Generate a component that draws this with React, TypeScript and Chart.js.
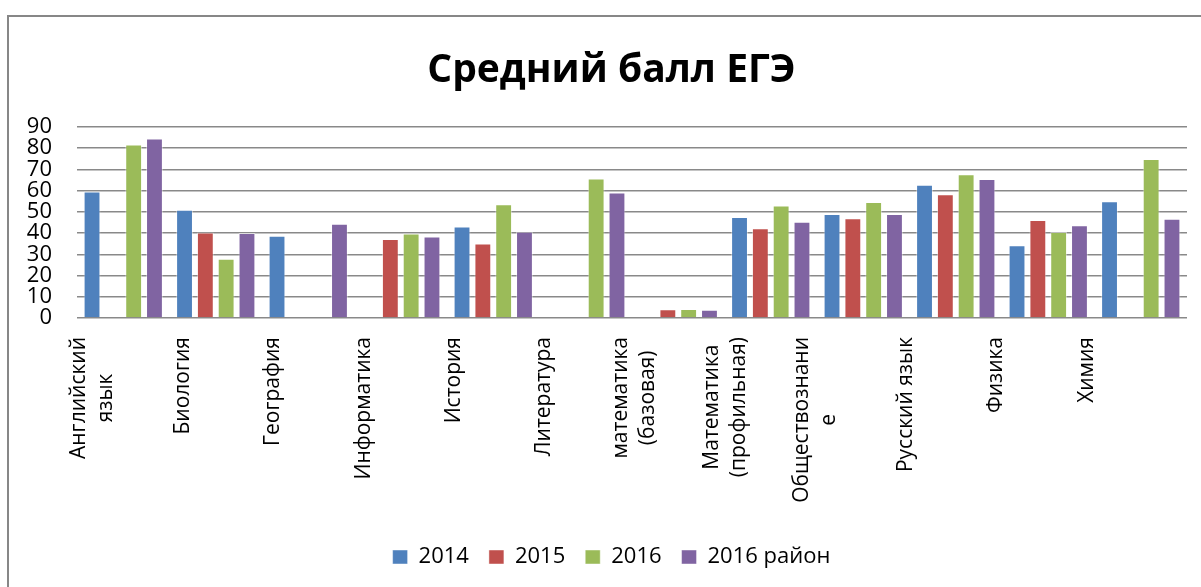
import React, { useEffect, useRef } from "react";
import { Chart, registerables } from "chart.js";

Chart.register(...registerables);

const categories: string[][] = [
  ["Английский", "язык"],
  ["Биология"],
  ["География"],
  ["Информатика"],
  ["История"],
  ["Литература"],
  ["математика", "(базовая)"],
  ["Математика", "(профильная)"],
  ["Обществознани", "е"],
  ["Русский язык"],
  ["Физика"],
  ["Химия"],
];

const seriesNames = ["2014", "2015", "2016", "2016 район"];
const values2014 = [59.6, 51.0, 38.7, null, 43.1, null, null, 47.5, 48.9, 62.7, 34.3, 54.9];
const values2015 = [null, 40.3, null, 37.2, 35.1, null, 4.1, 42.2, 46.9, 58.3, 46.1, null];
const values2016 = [81.7, 27.9, null, 39.8, 53.5, 65.7, 4.2, 53.0, 54.6, 67.7, 40.5, 74.8];
const valuesDistrict = [84.5, 40.0, 44.4, 38.4, 40.6, 59.1, 3.9, 45.3, 48.9, 65.4, 43.6, 46.7];
const yMin = 0;
const yMax = 90;
const yStep = 10;

const colors = ["#4F81BD", "#C0504D", "#9BBB59", "#8064A2"];
const FONT = '"Open Sans", "Noto Sans", sans-serif';

const rotatedLabels = {
  id: "rotatedLabels",
  afterDraw(chart: any) {
    const ctx = chart.ctx;
    const area = chart.chartArea;
    const catW = (area.right - area.left) / categories.length;
    ctx.save();
    ctx.font = `21px ${FONT}`;
    ctx.fillStyle = "#000";
    ctx.textAlign = "center";
    ctx.textBaseline = "middle";
    categories.forEach((lines, i) => {
      const cx = area.left + catW * (0.168 + 0.977 * i);
      const maxW = Math.max(...lines.map((l) => ctx.measureText(l).width));
      const cy = area.bottom + 19 + maxW / 2;
      const lh = 27;
      lines.forEach((l, j) => {
        const lx = cx + (j - (lines.length - 1) / 2) * lh;
        ctx.save();
        ctx.translate(lx, cy);
        ctx.rotate(-Math.PI / 2);
        ctx.fillText(l, 0, 0);
        ctx.restore();
      });
    });
    ctx.restore();
  },
};

export default function App() {
  const ref = useRef<HTMLCanvasElement | null>(null);

  useEffect(() => {
    if (!ref.current) return;
    const data = [values2014, values2015, values2016, valuesDistrict];
    const chart = new Chart(ref.current, {
      type: "bar",
      data: {
        labels: categories.map((c) => c.join(" ")),
        datasets: seriesNames.map((name, i) => ({
          label: name,
          data: data[i] as any,
          backgroundColor: colors[i],
          borderColor: "rgba(255,255,255,0.45)",
          borderWidth: 1,
          categoryPercentage: 0.9,
          barPercentage: 0.81,
        })),
      },
      options: {
        responsive: false,
        animation: false,
        layout: { padding: { left: 8, right: -14, top: 0, bottom: 9 } },
        plugins: {
          title: {
            display: true,
            text: "Средний балл ЕГЭ",
            color: "#000",
            font: { family: FONT, size: 39, weight: "bold", lineHeight: 1.2 },
            padding: { top: 47, bottom: 33 },
          },
          legend: {
            position: "bottom",
            labels: {
              color: "#000",
              font: { family: FONT, size: 22 },
              boxWidth: 15,
              boxHeight: 14,
              padding: 20,
            },
          },
          tooltip: { enabled: false },
        },
        scales: {
          x: {
            grid: { display: false },
            border: { display: false },
            ticks: { display: false },
            afterFit: (s: any) => {
              s.height = 208;
            },
          },
          y: {
            min: yMin,
            max: yMax,
            ticks: {
              stepSize: yStep,
              autoSkip: false,
              color: "#000",
              font: { family: FONT, size: 22 },
              padding: 25,
            },
            grid: { color: "#898989", lineWidth: 1.5, drawTicks: false },
            border: { display: false },
            afterFit: (s: any) => {
              s.width = 69;
            },
          },
          yRight: {
            position: "right",
            display: true,
            grid: { display: false },
            border: { display: false },
            ticks: { display: false },
            afterFit: (s: any) => {
              s.width = 28;
            },
          },
        },
      },
      plugins: [rotatedLabels],
    });
    return () => chart.destroy();
  }, []);

  return (
    <div
      style={{
        position: "fixed",
        left: 0,
        top: 0,
        width: 1201,
        height: 587,
        background: "#fff",
        overflow: "hidden",
      }}
    >
      <div
        style={{
          position: "absolute",
          left: 7,
          top: 15,
          width: 1300,
          height: 700,
          borderTop: "2px solid #878787",
          borderLeft: "2px solid #878787",
        }}
      />
      <canvas
        ref={ref}
        width={1201}
        height={587}
        style={{ position: "absolute", left: 0, top: 0 }}
      />
    </div>
  );
}
